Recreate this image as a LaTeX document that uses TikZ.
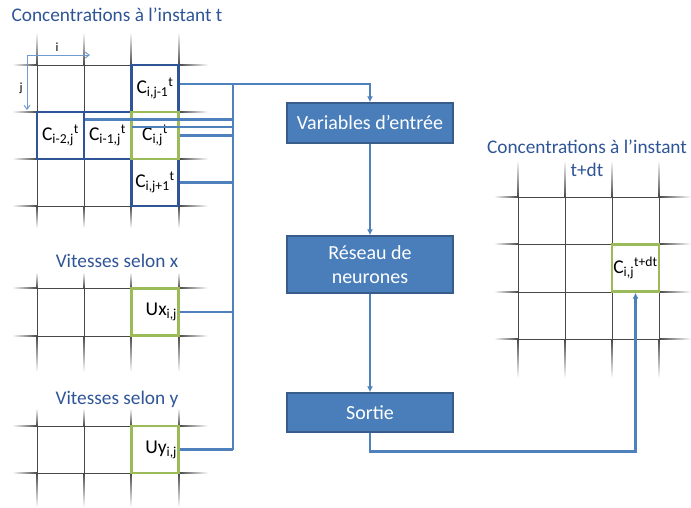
\documentclass[tikz,border=0pt]{standalone}
\usepackage{fontspec}
\setmainfont{Carlito}
\usetikzlibrary{arrows.meta}
\definecolor{ttl}{HTML}{2F5597}
\definecolor{bus}{HTML}{4F81BD}
\definecolor{boxfill}{HTML}{4A7EBB}
\definecolor{boxdraw}{HTML}{385D8A}
\definecolor{cellblue}{HTML}{2F5597}
\definecolor{cellgreen}{HTML}{9BBB59}
\definecolor{axis}{HTML}{6F9BD1}
\colorlet{gl}{black!72}
\tikzset{
  gridline/.style={draw=gl,line width=0.9pt},
  cell/.style={minimum width=47pt,minimum height=47pt,inner sep=0pt,line width=2.2pt,font=\fontsize{19.5}{21}\selectfont},
  bcell/.style={cell,draw=cellblue},
  gcell/.style={cell,draw=cellgreen},
  rcell/.style={gcell,text width=44pt,align=right},
  title/.style={text=ttl,font=\fontsize{19.3}{23}\selectfont,align=center},
  proc/.style={fill=boxfill,draw=boxdraw,line width=1.5pt,text=white,minimum width=166pt,font=\fontsize{20}{24}\selectfont,align=center},
  link/.style={draw=bus,line width=2.8pt},
  arr/.style={link,-{Latex[length=6pt,width=6pt]}},
  axarr/.style={draw=axis,line width=1pt,-{Straight Barb[length=4pt,width=6pt]}}
}
% horizontal grid line with faded ends: x0 x1 x2 x3 y
\newcommand\hgl[5]{%
  \shade[left color=white,right color=gl] (#1,#5-0.45) rectangle (#2,#5+0.45);
  \draw[gridline] (#2,#5) -- (#3,#5);
  \shade[left color=gl,right color=white] (#3,#5-0.45) rectangle (#4,#5+0.45);}
% vertical grid line with faded ends: y0 y1 y2 y3 x
\newcommand\vgl[5]{%
  \shade[top color=white,bottom color=gl] (#5-0.45,#1) rectangle (#5+0.45,#2);
  \draw[gridline] (#5,#2) -- (#5,#3);
  \shade[top color=gl,bottom color=white] (#5-0.45,#3) rectangle (#5+0.45,#4);}
\begin{document}
\begin{tikzpicture}[x=1pt,y=-1pt]
\useasboundingbox (0,0) rectangle (691,507);
% grid 1
\foreach \x in {37,84,131,179} {\vgl{32}{65}{206}{228}{\x}}
\foreach \y in {65,112,159,206} {\hgl{12}{37}{179}{208}{\y}}
% grid 2
\foreach \x in {37,84,131,179} {\vgl{272}{288}{336}{372}{\x}}
\foreach \y in {288,336} {\hgl{12}{37}{179}{208}{\y}}
% grid 3
\foreach \x in {37,84,131,179} {\vgl{408}{426}{473}{507}{\x}}
\foreach \y in {426,473} {\hgl{12}{37}{179}{208}{\y}}
% grid 4
\foreach \x in {518,565,612,659} {\vgl{160}{197}{339}{378}{\x}}
\foreach \y in {197,244,292,339} {\hgl{494}{518}{659}{691}{\y}}

% titles
\node[title] (t1) at (117,15) {Concentrations à l’instant t};
\node[title] (t2) at (117,261) {Vitesses selon x};
\node[title] (t3) at (117,399) {Vitesses selon y};
\node[title] (t4) at (587,158) {Concentrations à l’instant\\t+dt};

% axes
\coordinate (o) at (27,55);
\coordinate (ox) at (90,55);
\coordinate (oy) at (27,110);
\draw[axarr] (o) -- (ox);
\draw[axarr] (o) -- (oy);
\node[font=\fontsize{12.5}{14}\selectfont] (li) at (57,47) {i};
\node[font=\fontsize{12.5}{14}\selectfont] (lj) at (21,88) {j};

% cells
\node[bcell] (cA) at (155,88.5) {C\textsubscript{i,j-1}\textsuperscript{t}};
\node[bcell] (cB) at (60.5,135.5) {C\textsubscript{i-2,j}\textsuperscript{t}};
\node[bcell] (cC) at (107.5,135.5) {C\textsubscript{i-1,j}\textsuperscript{t}};
\node[bcell] (cE) at (155,182.5) {C\textsubscript{i,j+1}\textsuperscript{t}};
\node[gcell] (cD) at (155,135.5) {C\textsubscript{i,j}\textsuperscript{t}};
\node[rcell] (ux) at (155,312) {Ux\textsubscript{i,j}};
\node[rcell] (uy) at (155,449.5) {Uy\textsubscript{i,j}};
\node[gcell] (co) at (635.5,268) {C\textsubscript{i,j}\textsuperscript{t+dt}};

% process boxes
\node[proc,minimum height=40pt] (var) at (370,123) {Variables d’entrée};
\node[proc,minimum height=57pt] (res) at (370,264.5) {Réseau de\\neurones};
\node[proc,minimum height=39pt] (sor) at (370,412.5) {Sortie};

% bus
\coordinate (busT) at (233,84);
\coordinate (busB) at (233,449.5);
\draw[link] (busT) -- (busB);
\draw[link] ([yshift=16pt]cB.east) -- ([yshift=16pt]cB.east -| busT);
\draw[link] ([yshift=8.5pt]cC.east) -- ([yshift=8.5pt]cC.east -| busT);
\draw[link] (cD.east) -- (cD.east -| busT);
\draw[link] (cE.east) -- (cE.east -| busT);
\draw[link] (ux.east) -- (ux.east -| busT);
\draw[link] (uy.east) -- (uy.east -| busT);
\draw[arr] ([yshift=4.5pt]cA.east) -- ([yshift=4.5pt]cA.east -| var.north) -- (var.north);

% flow
\draw[arr] (var.south) -- (res.north);
\draw[arr] (res.south) -- (sor.north);
\draw[arr] (sor.south) -- ++(0,19) -| (co.south);
\end{tikzpicture}
\end{document}
